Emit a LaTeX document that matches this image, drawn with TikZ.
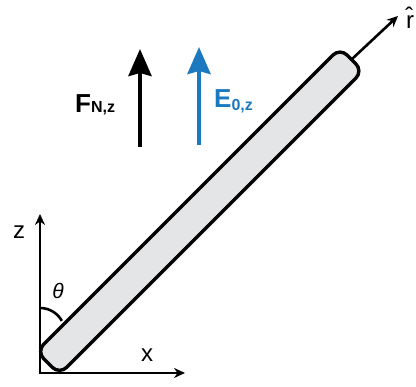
\documentclass[tikz,border=0pt]{standalone}
\usepackage{fontspec}
\setmainfont{Liberation Sans}
\usetikzlibrary{arrows.meta,calc}
\definecolor{efield}{HTML}{1B79BF}
\definecolor{rodfill}{HTML}{E4E5E6}
\tikzset{
  axisline/.style={line width=2.8pt, {Stealth[length=11pt,width=10pt]}-{Stealth[length=11pt,width=10pt]}},
  bigarrow/.style={line width=4.2pt, -{Stealth[length=27pt,width=23pt,inset=3pt]}},
  rod/.style={line width=3.4pt, fill=rodfill, rounded corners=10pt, line join=round},
  lbl/.style={inner sep=0pt, font=\fontsize{24}{24}\selectfont},
  bold/.style={inner sep=0pt, font=\bfseries}
}
\begin{document}
\begin{tikzpicture}[x=1pt,y=1pt]
\useasboundingbox (0,0) rectangle (416,387);
% axes
\coordinate (O) at (40,14);
\coordinate (zt) at (40,173);
\coordinate (xt) at (185,14);
\draw[axisline] (zt) -- (O) -- (xt);
\node[lbl] (zl) at (19,155) {z};
\node[lbl] (xl) at (147,32) {x};
% theta arc
\coordinate (as) at (40,79);
\draw[line width=2.6pt] (as) arc[start angle=90, end angle=29, radius=25];
\node[lbl, font=\fontsize{21}{21}\selectfont\itshape] (th) at (58,96) {θ};
% rod
\coordinate (A) at (36.5,35.5);
\coordinate (B) at (59.5,12.5);
\coordinate (C) at (363,316);
\coordinate (D) at (340,339);
\draw[rod] (A) -- (B) -- (C) -- (D) -- cycle;
% r hat arrow
\coordinate (rs) at ($(C)!0.5!(D)$);
\coordinate (re) at (398,371);
\draw[line width=2.6pt, -{Stealth[length=11pt,width=10pt]}] (rs) -- (re);
\node[lbl, anchor=west] (rl) at (406,369) {\^{r}};
% force arrows
\coordinate (fb) at (140,240);
\coordinate (ft) at (140,338);
\draw[bigarrow] (fb) -- (ft);
\coordinate (eb) at (199,242);
\coordinate (et) at (199,340);
\draw[bigarrow, efield] (eb) -- (et);
\node[bold, anchor=base west] (fl) at (75,274) {\fontsize{26}{26}\selectfont F\fontsize{16}{16}\selectfont N,z};
\node[bold, anchor=base west, text=efield] (el) at (214,279) {\fontsize{26}{26}\selectfont E\raisebox{-3pt}{\fontsize{16}{16}\selectfont 0,z}};
\end{tikzpicture}
\end{document}
